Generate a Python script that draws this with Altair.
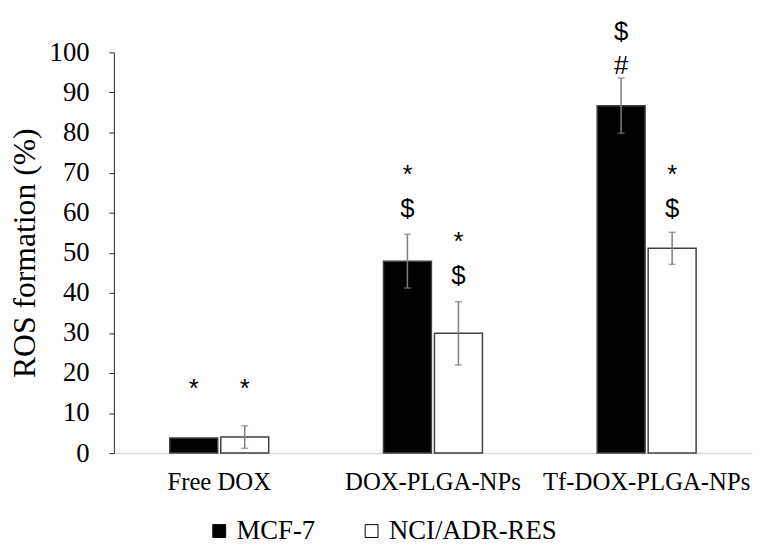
import altair as alt
import pandas as pd

categories = ["Free DOX", "DOX-PLGA-NPs", "Tf-DOX-PLGA-NPs"]
series = ["MCF-7", "NCI/ADR-RES"]
mcf7 = [3.8, 47.9, 86.7]
mcf7_err = [0.0, 6.7, 6.9]
nci = [4.0, 29.9, 51.1]
nci_err = [2.8, 7.9, 4.0]

# significance marks: category, series, symbol, baseline height in % units
ann_cat = ["Free DOX", "Free DOX", "DOX-PLGA-NPs", "DOX-PLGA-NPs", "DOX-PLGA-NPs", "DOX-PLGA-NPs",
           "Tf-DOX-PLGA-NPs", "Tf-DOX-PLGA-NPs", "Tf-DOX-PLGA-NPs", "Tf-DOX-PLGA-NPs"]
ann_ser = ["MCF-7", "NCI/ADR-RES", "MCF-7", "MCF-7", "NCI/ADR-RES", "NCI/ADR-RES",
           "MCF-7", "MCF-7", "NCI/ADR-RES", "NCI/ADR-RES"]
ann_txt = ["*", "*", "*", "$", "*", "$", "$", "#", "*", "$"]
ann_y = [14.1, 14.1, 67.4, 59.0, 50.6, 42.2, 103.2, 94.6, 67.4, 59.0]

rows = []
for i, c in enumerate(categories):
    rows.append({"category": c, "series": series[0], "value": mcf7[i], "err": mcf7_err[i]})
    rows.append({"category": c, "series": series[1], "value": nci[i], "err": nci_err[i]})
df = pd.DataFrame(rows)
df["lo"] = df["value"] - df["err"]
df["hi"] = df["value"] + df["err"]
err_df = df[df["err"] > 0]

ann = pd.DataFrame({"category": ann_cat, "series": ann_ser, "txt": ann_txt, "y": ann_y})

serif = "Liberation Serif"

x_scale = alt.Scale(paddingInner=0.537, paddingOuter=0.2616)
xo_scale = alt.Scale(paddingInner=0.06, paddingOuter=0)
y_scale = alt.Scale(domain=[0, 100])

x_axis = alt.Axis(title=None, labelAngle=0, labelFont=serif, labelFontSize=25,
                  labelColor="black", ticks=False, domainColor="#d9d9d9",
                  domainWidth=1.5, labelPadding=17, labelLimit=0)
y_axis = alt.Axis(title="ROS formation (%)", values=list(range(0, 101, 10)),
                  grid=False, labelFont=serif, labelFontSize=27, labelColor="black",
                  titleFont=serif, titleFontSize=32, titleFontWeight="normal",
                  titleColor="black", titlePadding=8, tickSize=5, labelPadding=20,
                  domainColor="#262626", tickColor="#262626")

x_enc = alt.X("category:N", sort=categories, scale=x_scale, axis=x_axis)
xo_enc = alt.XOffset("series:N", sort=series, scale=xo_scale)

bars = alt.Chart(df).mark_bar(stroke="#404040", strokeWidth=1.5).encode(
    x=x_enc,
    xOffset=xo_enc,
    y=alt.Y("value:Q", scale=y_scale, axis=y_axis),
    color=alt.Color("series:N", sort=series,
                    scale=alt.Scale(domain=series, range=["black", "white"]),
                    legend=alt.Legend(title=None, orient="none", legendX=93, legendY=470,
                                      direction="horizontal", symbolType="square",
                                      symbolStrokeColor="black", symbolStrokeWidth=1,
                                      symbolSize=169, labelFont=serif, labelFontSize=27,
                                      labelColor="black", columnPadding=43, labelOffset=4,
                                      labelLimit=0)),
)

rules = alt.Chart(err_df).mark_rule(color="#7f7f7f", strokeWidth=1.5).encode(
    x=x_enc,
    xOffset=xo_enc,
    y=alt.Y("lo:Q", scale=y_scale, axis=y_axis),
    y2="hi:Q",
)
caps_hi = alt.Chart(err_df).mark_tick(color="#7f7f7f", thickness=1.5, size=7).encode(
    x=x_enc,
    xOffset=xo_enc,
    y=alt.Y("hi:Q", scale=y_scale, axis=y_axis),
)
caps_lo = alt.Chart(err_df).mark_tick(color="#7f7f7f", thickness=1.5, size=7).encode(
    x=x_enc,
    xOffset=xo_enc,
    y=alt.Y("lo:Q", scale=y_scale, axis=y_axis),
)

labels = alt.Chart(ann).mark_text(font="Liberation Sans", fontSize=26, color="black",
                                  baseline="alphabetic").encode(
    x=x_enc,
    xOffset=xo_enc,
    y=alt.Y("y:Q", scale=y_scale, axis=y_axis),
    text="txt:N",
)

chart = alt.layer(bars, rules, caps_hi, caps_lo, labels).properties(
    width=645, height=405,
    background="white",
    autosize=alt.AutoSizeParams(type="none"),
    padding={"left": 107, "top": 42, "right": 2, "bottom": 91},
).configure_view(stroke=None)

chart.save("out.html", embed_options={"renderer": "svg", "actions": False})
